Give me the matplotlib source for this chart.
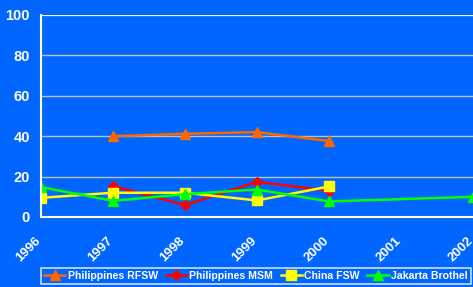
import numpy as np
import matplotlib.pyplot as plt
from matplotlib.transforms import ScaledTranslation

plt.rcParams['font.family'] = ['Liberation Sans', 'DejaVu Sans']
plt.rcParams['font.weight'] = 'bold'

years = [1996, 1997, 1998, 1999, 2000, 2001, 2002]

rfsw_x = [1997, 1998, 1999, 2000]
rfsw_y = [40.0, 41.2, 42.0, 37.6]

msm_x = [1997, 1998, 1999, 2000]
msm_y = [15.3, 5.9, 17.4, 13.0]

china_x = [1996, 1997, 1998, 1999, 2000]
china_y = [9.5, 12.0, 12.0, 8.2, 15.1]

jakarta_x = [1996, 1997, 1998, 1999, 2000, 2002]
jakarta_y = [14.8, 8.0, 11.3, 13.6, 7.7, 10.0]

bg = '#0066ff'
fig = plt.figure(figsize=(4.73, 2.87), dpi=100, facecolor=bg)
ax = fig.add_axes([41 / 473, 70 / 287, 432 / 473, 202 / 287])
ax.set_facecolor(bg)

ax.plot(rfsw_x, rfsw_y, color='#ff6600', marker='^', markersize=7, lw=1.8, label='Philippines RFSW')
ax.plot(msm_x, msm_y, color='#ff0000', marker='D', markersize=5, lw=1.8, label='Philippines MSM')
ax.plot(china_x, china_y, color='#ffff00', marker='s', markersize=7, lw=1.8, label='China FSW')
ax.plot(jakarta_x, jakarta_y, color='#00ff00', marker='^', markersize=7, lw=1.8, label='Jakarta Brothel')

ax.set_xlim(1996, 2002)
ax.set_ylim(0, 100)
ax.set_yticks([0, 20, 40, 60, 80, 100])
ax.set_xticks(years)
ax.set_xticklabels([str(y) for y in years], rotation=45, ha='right', rotation_mode='anchor')
ax.yaxis.grid(True, color='#c0c0c0', lw=1)
ax.axhline(100, color='white', lw=1.2)
ax.set_axisbelow(True)

for s in ['top', 'right']:
    ax.spines[s].set_visible(False)
for s in ['left', 'bottom']:
    ax.spines[s].set_color('white')
    ax.spines[s].set_linewidth(1.5)

ax.tick_params(axis='both', length=0, colors='white')
ax.tick_params(axis='x', pad=13, labelsize=9.5)
ax.tick_params(axis='y', pad=8, labelsize=10.5)
shift = ScaledTranslation(-6 / 100, 0, fig.dpi_scale_trans)
for lab in ax.get_xticklabels():
    lab.set_transform(lab.get_transform() + shift)

leg = ax.legend(loc='upper left', bbox_to_anchor=(0.0, -0.252, 430 / 432, 0.0), mode='expand',
                ncol=4, frameon=True, fontsize=7.6, handlelength=2.0, handletextpad=0.25,
                columnspacing=0.5, borderpad=0.3, fancybox=False, borderaxespad=0)
leg.get_frame().set_facecolor(bg)
leg.get_frame().set_edgecolor('white')
leg.get_frame().set_linewidth(1.2)
for t in leg.get_texts():
    t.set_color('white')

fig.savefig('out.png', dpi=100, facecolor=bg)
